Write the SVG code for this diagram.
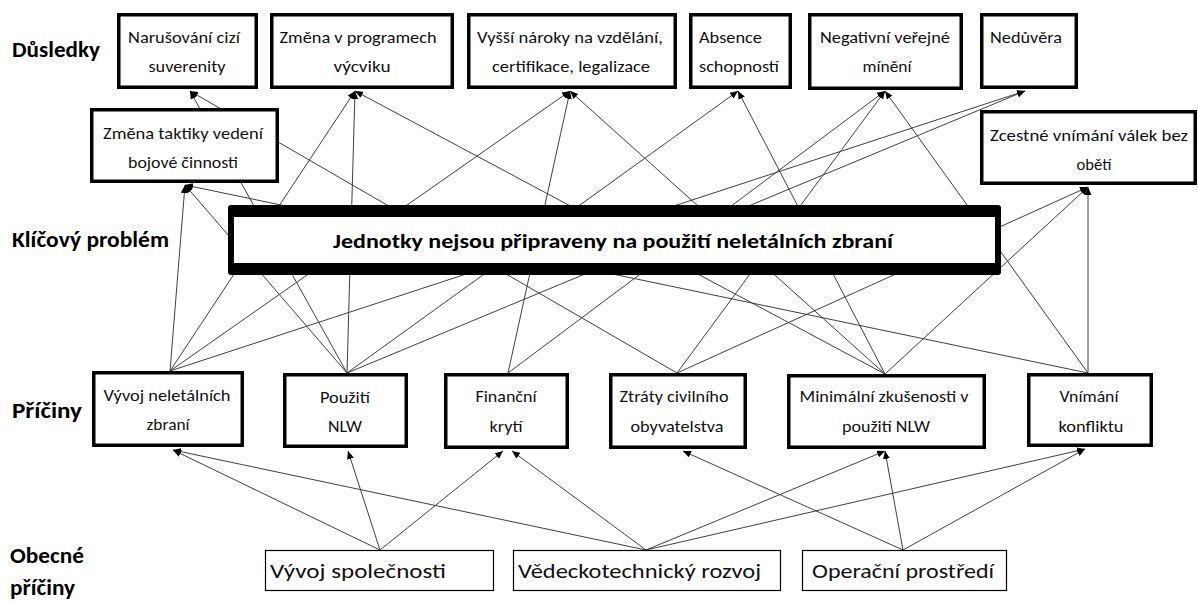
<svg xmlns="http://www.w3.org/2000/svg" width="1198" height="603" viewBox="0 0 1198 603">
<style>
.bg{fill:#fff}
.box{fill:#fff;stroke:#000;stroke-width:3.5}
.gbox{fill:#fff;stroke:#000;stroke-width:1.2}
.t{font-family:Carlito,Lato,"Liberation Sans",sans-serif;font-size:16px;fill:#111}
.c{text-anchor:middle}
.lbl{font-family:Carlito,Lato,"Liberation Sans",sans-serif;font-size:22px;font-weight:bold;fill:#000}
.key{font-family:Carlito,Lato,"Liberation Sans",sans-serif;font-size:21px;font-weight:bold;fill:#000}
.g{font-family:Carlito,Lato,"Liberation Sans",sans-serif;font-size:21px;fill:#111}
.ln{stroke:#404040;stroke-width:1;fill:none;marker-end:url(#ah)}
</style>
<defs>
<marker id="ah" viewBox="0 0 8 7" refX="8" refY="3.5" markerWidth="8" markerHeight="7" markerUnits="userSpaceOnUse" orient="auto">
<path d="M0,0 L8,3.5 L0,7 z" fill="#000"/>
</marker>
</defs>
<rect class="bg" x="0" y="0" width="1198" height="603"/>

<g id="labels">
<text class="lbl" x="12" y="57" textLength="88" lengthAdjust="spacingAndGlyphs">Důsledky</text>
<text class="lbl" x="12" y="247" textLength="157" lengthAdjust="spacingAndGlyphs">Klíčový problém</text>
<text class="lbl" x="12" y="418" textLength="70" lengthAdjust="spacingAndGlyphs">Příčiny</text>
<text class="lbl" x="10" y="563" textLength="74" lengthAdjust="spacingAndGlyphs">Obecné</text>
<text class="lbl" x="10" y="595" textLength="65" lengthAdjust="spacingAndGlyphs">příčiny</text>
</g>

<g id="connectors">
<line class="ln" x1="170" y1="371" x2="185" y2="185"/>
<line class="ln" x1="170" y1="371" x2="355" y2="91"/>
<line class="ln" x1="170" y1="371" x2="570" y2="91"/>
<line class="ln" x1="170" y1="371" x2="1025" y2="91"/>
<line class="ln" x1="347" y1="373" x2="185" y2="185"/>
<line class="ln" x1="347" y1="373" x2="190" y2="91"/>
<line class="ln" x1="347" y1="373" x2="355" y2="91"/>
<line class="ln" x1="347" y1="373" x2="738" y2="91"/>
<line class="ln" x1="347" y1="373" x2="1025" y2="91"/>
<line class="ln" x1="508" y1="373" x2="570" y2="91"/>
<line class="ln" x1="508" y1="373" x2="885" y2="91"/>
<line class="ln" x1="677" y1="373" x2="190" y2="91"/>
<line class="ln" x1="677" y1="373" x2="885" y2="91"/>
<line class="ln" x1="677" y1="373" x2="1088" y2="187"/>
<line class="ln" x1="885" y1="374" x2="355" y2="91"/>
<line class="ln" x1="885" y1="374" x2="570" y2="91"/>
<line class="ln" x1="885" y1="374" x2="738" y2="91"/>
<line class="ln" x1="885" y1="374" x2="1088" y2="187"/>
<line class="ln" x1="1088" y1="373" x2="885" y2="91"/>
<line class="ln" x1="1088" y1="373" x2="185" y2="185"/>
<line class="ln" x1="1088" y1="373" x2="1088" y2="187"/>
<line class="ln" x1="380" y1="550" x2="173" y2="450"/>
<line class="ln" x1="380" y1="550" x2="348" y2="451"/>
<line class="ln" x1="380" y1="550" x2="503" y2="451"/>
<line class="ln" x1="646" y1="550" x2="173" y2="450"/>
<line class="ln" x1="646" y1="550" x2="512" y2="451"/>
<line class="ln" x1="646" y1="550" x2="885" y2="451"/>
<line class="ln" x1="646" y1="550" x2="1085" y2="449"/>
<line class="ln" x1="903" y1="550" x2="683" y2="451"/>
<line class="ln" x1="903" y1="550" x2="885" y2="451"/>
<line class="ln" x1="903" y1="550" x2="1085" y2="449"/>
</g>

<g id="k1"><rect class="box" x="118.75" y="14.75" width="137.5" height="72.5"/>
<text class="t c" x="184" y="43" textLength="112" lengthAdjust="spacingAndGlyphs">Narušování cizí</text>
<text class="t c" x="187" y="72" textLength="77" lengthAdjust="spacingAndGlyphs">suverenity</text></g>

<g id="k2"><rect class="box" x="271.75" y="14.75" width="180.5" height="72.5"/>
<text class="t c" x="358" y="43" textLength="157" lengthAdjust="spacingAndGlyphs">Změna v programech</text>
<text class="t c" x="362" y="72" textLength="57" lengthAdjust="spacingAndGlyphs">výcviku</text></g>

<g id="k3"><rect class="box" x="468.75" y="14.75" width="206.5" height="72.5"/>
<text class="t c" x="570" y="43" textLength="186" lengthAdjust="spacingAndGlyphs">Vyšší nároky na vzdělání,</text>
<text class="t c" x="571" y="72" textLength="158" lengthAdjust="spacingAndGlyphs">certifikace, legalizace</text></g>

<g id="k4"><rect class="box" x="690.75" y="14.75" width="99.5" height="72.5"/>
<text class="t" x="699" y="43" textLength="63" lengthAdjust="spacingAndGlyphs">Absence</text>
<text class="t" x="699" y="72" textLength="80" lengthAdjust="spacingAndGlyphs">schopností</text></g>

<g id="k5"><rect class="box" x="809.75" y="14.75" width="151.5" height="73.5"/>
<text class="t c" x="885" y="43" textLength="130" lengthAdjust="spacingAndGlyphs">Negativní veřejné</text>
<text class="t c" x="887" y="72" textLength="49" lengthAdjust="spacingAndGlyphs">mínění</text></g>

<g id="k6"><rect class="box" x="981.75" y="14.75" width="94.5" height="72.5"/>
<text class="t" x="990" y="43" textLength="72" lengthAdjust="spacingAndGlyphs">Nedůvěra</text></g>

<g id="k7"><rect class="box" x="91.75" y="109.75" width="185.5" height="71.5"/>
<text class="t c" x="183" y="139" textLength="160" lengthAdjust="spacingAndGlyphs">Změna taktiky vedení</text>
<text class="t c" x="183" y="168" textLength="110" lengthAdjust="spacingAndGlyphs">bojové činnosti</text></g>

<g id="k8"><rect class="box" x="981.75" y="111.75" width="213.5" height="71.5"/>
<text class="t c" x="1089" y="141" textLength="198" lengthAdjust="spacingAndGlyphs">Zcestné vnímání válek bez</text>
<text class="t c" x="1094" y="170" textLength="35" lengthAdjust="spacingAndGlyphs">obětí</text></g>

<g id="key"><rect x="228" y="205" width="773" height="70" rx="3" fill="#000"/>
<rect x="234" y="217" width="761" height="46" fill="#fff"/>
<text class="key c" x="613" y="248" textLength="560" lengthAdjust="spacingAndGlyphs">Jednotky nejsou připraveny na použití neletálních zbraní</text></g>

<g id="c1"><rect class="box" x="93.75" y="372.75" width="148.5" height="72.5"/>
<text class="t c" x="167" y="401" textLength="127" lengthAdjust="spacingAndGlyphs">Vývoj neletálních</text>
<text class="t c" x="168" y="430" textLength="43" lengthAdjust="spacingAndGlyphs">zbraní</text></g>

<g id="c2"><rect class="box" x="284.75" y="374.75" width="121.5" height="71.5"/>
<text class="t c" x="345" y="403" textLength="50" lengthAdjust="spacingAndGlyphs">Použití</text>
<text class="t c" x="345" y="432" textLength="34" lengthAdjust="spacingAndGlyphs">NLW</text></g>

<g id="c3"><rect class="box" x="445.75" y="374.75" width="121.5" height="72.5"/>
<text class="t c" x="506" y="402" textLength="61" lengthAdjust="spacingAndGlyphs">Finanční</text>
<text class="t c" x="506" y="432" textLength="33" lengthAdjust="spacingAndGlyphs">krytí</text></g>

<g id="c4"><rect class="box" x="610.75" y="374.75" width="134.5" height="72.5"/>
<text class="t c" x="674" y="402" textLength="109" lengthAdjust="spacingAndGlyphs">Ztráty civilního</text>
<text class="t c" x="677" y="432" textLength="93" lengthAdjust="spacingAndGlyphs">obyvatelstva</text></g>

<g id="c5"><rect class="box" x="788.75" y="375.75" width="195.5" height="71.5"/>
<text class="t c" x="884" y="402" textLength="169" lengthAdjust="spacingAndGlyphs">Minimální zkušenosti v</text>
<text class="t c" x="886" y="432" textLength="88" lengthAdjust="spacingAndGlyphs">použití NLW</text></g>

<g id="c6"><rect class="box" x="1028.75" y="374.75" width="122.5" height="70.5"/>
<text class="t c" x="1089" y="402" textLength="59" lengthAdjust="spacingAndGlyphs">Vnímání</text>
<text class="t c" x="1091" y="432" textLength="65" lengthAdjust="spacingAndGlyphs">konfliktu</text></g>

<g id="g1"><rect class="gbox" x="265.5" y="550.5" width="228" height="40"/>
<text class="g" x="270" y="578" textLength="176" lengthAdjust="spacingAndGlyphs">Vývoj společnosti</text></g>

<g id="g2"><rect class="gbox" x="513.5" y="550.5" width="267" height="40"/>
<text class="g" x="518" y="578" textLength="243" lengthAdjust="spacingAndGlyphs">Vědeckotechnický rozvoj</text></g>

<g id="g3"><rect class="gbox" x="802.5" y="550.5" width="204" height="40"/>
<text class="g" x="812" y="578" textLength="182" lengthAdjust="spacingAndGlyphs">Operační prostředí</text></g>
</svg>
